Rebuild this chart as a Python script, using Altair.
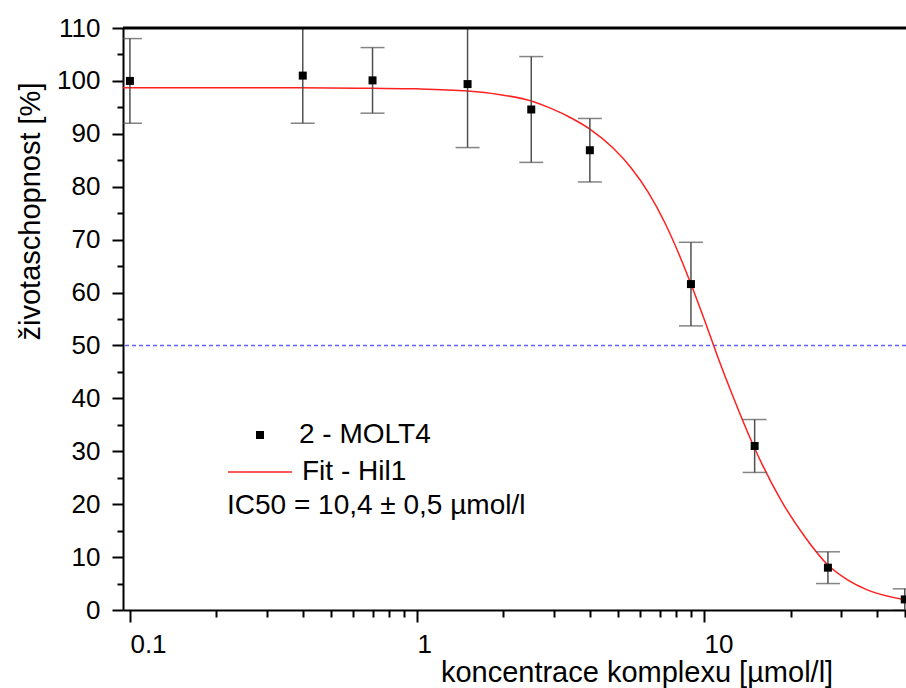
import altair as alt
import pandas as pd

# ---- data ----
conc = [0.1, 0.4, 0.7, 1.5, 2.5, 4.0, 9.0, 15.0, 27.0, 50.0]
viability = [100.0, 101.0, 100.1, 99.4, 94.6, 86.9, 61.6, 31.0, 8.0, 2.0]
error = [8.0, 9.0, 6.2, 12.0, 10.0, 6.0, 7.9, 5.0, 3.0, 2.0]

fit_x = [0.0946, 0.39, 0.69, 1.0, 1.5, 1.9, 2.5, 2.9, 3.47, 4.0, 4.8, 5.6, 6.4, 7.3,
         8.3, 9.0, 10.0, 11.2, 12.6, 14.9, 18.5, 22.4, 27.0, 31.6, 37.0, 50.5]
fit_y = [98.7, 98.7, 98.6, 98.5, 98.1, 97.5, 96.2, 94.9, 92.9, 90.9, 87.4, 83.4, 78.9, 73.2,
         66.4, 61.6, 55.0, 47.6, 40.4, 30.9, 20.8, 13.9, 8.5, 5.7, 3.8, 1.9]

x_major = [0.1, 1, 10]
x_minor = [0.2, 0.3, 0.4, 0.5, 0.6, 0.7, 0.8, 0.9, 2, 3, 4, 5, 6, 7, 8, 9, 20, 30, 40, 50]
y_major = list(range(0, 111, 10))
y_minor = list(range(5, 110, 10))

x_domain = [0.0946, 50.5]
y_domain = [0, 110]
ic50_level = [50]
top_level = [110]

series_points = "2 - MOLT4"
series_fit = "Fit - Hil1"
ic50_text = "IC50 = 10,4 ± 0,5 µmol/l"

FONT = "Liberation Sans"

pts = pd.DataFrame({"x": conc, "y": viability, "lo": [v - e for v, e in zip(viability, error)],
                    "hi": [v + e for v, e in zip(viability, error)], "series": series_points})
fit = pd.DataFrame({"x": fit_x, "y": fit_y, "series": series_fit})

xs = alt.Scale(type="log", domain=x_domain, nice=False)
ys = alt.Scale(domain=y_domain, nice=False, zero=False)

x_major_axis = alt.Axis(values=x_major, format="~g", orient="bottom", tickSize=12, tickWidth=2,
                        tickColor="black", domainColor="black", domainWidth=2, grid=False,
                        labelFont=FONT, labelFontSize=26, labelColor="black", labelAlign="left",
                        labelBaseline="alphabetic", labelPadding=30, labelFlush=False, labelOverlap=False,
                        title="koncentrace komplexu [µmol/l]", titleFont=FONT, titleFontSize=29,
                        titleFontWeight="normal", titleColor="black", titleX=513.5, titleY=71,
                        titleAlign="center", titleBaseline="alphabetic")
x_minor_axis = alt.Axis(values=x_minor, orient="bottom", tickSize=7, tickWidth=2, tickColor="black",
                        domain=False, labels=False, grid=False, title=None)
y_major_axis = alt.Axis(values=y_major, format="d", orient="left", tickSize=11, tickWidth=2,
                        tickColor="black", domainColor="black", domainWidth=2, grid=False,
                        labelFont=FONT, labelFontSize=26, labelColor="black", labelAlign="right",
                        labelBaseline="middle", labelPadding=12, labelFlush=False, labelOverlap=False,
                        title="životaschopnost [%]", titleFont=FONT, titleFontSize=29,
                        titleFontWeight="normal", titleColor="black", titleAngle=270,
                        titleX=-83.5, titleY=183, titleAlign="center", titleBaseline="alphabetic")
y_minor_axis = alt.Axis(values=y_minor, orient="left", tickSize=6, tickWidth=2, tickColor="black",
                        domain=False, labels=False, grid=False, title=None)

ref = alt.Chart(pd.DataFrame({"y": ic50_level})).mark_rule(
    color="#6060ff", strokeDash=[4, 3], strokeWidth=1.6
).encode(y=alt.Y("y:Q", scale=ys, axis=None))

top = alt.Chart(pd.DataFrame({"y": top_level})).mark_rule(
    color="black", strokeWidth=3
).encode(y=alt.Y("y:Q", scale=ys, axis=None))

curve = alt.Chart(fit).mark_line(color="#ff2020", strokeWidth=1.5, clip=True, interpolate="monotone").encode(
    x=alt.X("x:Q", scale=xs, axis=None),
    y=alt.Y("y:Q", scale=ys, axis=None),
    color=alt.Color("series:N", scale=alt.Scale(domain=[series_fit], range=["#ff2020"]),
                    legend=alt.Legend(orient="none", legendX=104, legendY=411, padding=0, offset=0,
                                      title=ic50_text, titleOrient="bottom", titleAnchor="start",
                                      titleFont=FONT, titleFontSize=28, titleFontWeight="normal",
                                      titleColor="black", titlePadding=6, titleLimit=500,
                                      labelFont=FONT, labelFontSize=28, labelColor="black",
                                      labelOffset=9, symbolSize=4096, symbolStrokeWidth=1.5,
                                      symbolType="stroke")),
)

bars = alt.Chart(pts).mark_rule(color="#505050", strokeWidth=1.5, clip=True).encode(
    x=alt.X("x:Q", scale=xs, axis=x_minor_axis),
    y=alt.Y("lo:Q", scale=ys, axis=y_minor_axis),
    y2="hi:Q",
)
cap_lo = alt.Chart(pts).mark_tick(color="#505050", orient="horizontal", size=24, thickness=1.5, clip=True).encode(
    x=alt.X("x:Q", scale=xs, axis=None), y=alt.Y("lo:Q", scale=ys, axis=None))
cap_hi = alt.Chart(pts).mark_tick(color="#505050", orient="horizontal", size=24, thickness=1.5, clip=True).encode(
    x=alt.X("x:Q", scale=xs, axis=None), y=alt.Y("hi:Q", scale=ys, axis=None))

points = alt.Chart(pts).mark_point(filled=True, color="black", size=64, opacity=1, clip=True).encode(
    x=alt.X("x:Q", scale=xs, axis=x_major_axis),
    y=alt.Y("y:Q", scale=ys, axis=y_major_axis),
    shape=alt.Shape("series:N", scale=alt.Scale(domain=[series_points], range=["square"]),
                    legend=alt.Legend(orient="none", legendX=123, legendY=393, padding=0, offset=0,
                                      title=None, labelFont=FONT, labelFontSize=28, labelColor="black",
                                      labelOffset=25, symbolSize=64, symbolFillColor="black",
                                      symbolStrokeWidth=0)),
)

chart = alt.layer(ref, curve, bars, cap_lo, cap_hi, points, top).resolve_axis(
    x="independent", y="independent"
).resolve_legend(color="independent", shape="independent").properties(
    width=783, height=582,
    autosize=alt.AutoSizeParams(type="none"),
    padding={"left": 123, "top": 28, "right": 0, "bottom": 78},
    background="white",
).configure_view(stroke=None)

chart.save("out.html", embed_options={"renderer": "svg", "actions": False})
